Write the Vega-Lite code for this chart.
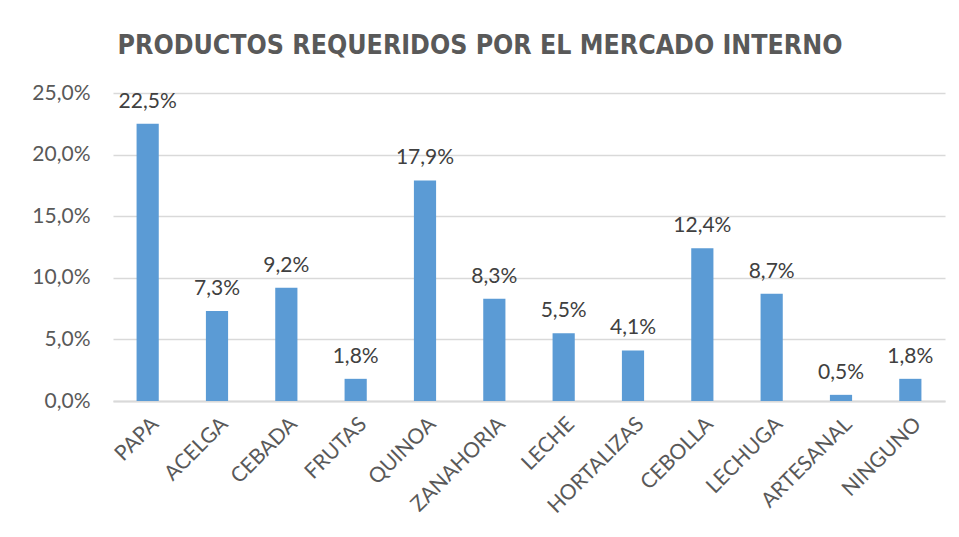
{
  "$schema": "https://vega.github.io/schema/vega-lite/v6.json",
  "autosize": "none",
  "width": 832,
  "height": 308,
  "padding": {"left": 113, "top": 93, "right": 14, "bottom": 136},
  "background": "white",
  "config": {
    "locale": {"number": {"decimal": ",", "thousands": ".", "grouping": [3], "currency": ["", " €"]}},
    "view": {"stroke": null},
    "font": "Lato"
  },
  "title": {
    "text": "PRODUCTOS REQUERIDOS POR EL MERCADO INTERNO",
    "font": "DejaVu Sans Condensed, Liberation Sans",
    "fontSize": 26.5,
    "fontWeight": "bold",
    "color": "#595959",
    "anchor": "middle",
    "dx": -49,
    "offset": 23
  },
  "data": {
    "values": [
      {"producto": "PAPA", "valor": 0.225},
      {"producto": "ACELGA", "valor": 0.073},
      {"producto": "CEBADA", "valor": 0.092},
      {"producto": "FRUTAS", "valor": 0.018},
      {"producto": "QUINOA", "valor": 0.179},
      {"producto": "ZANAHORIA", "valor": 0.083},
      {"producto": "LECHE", "valor": 0.055},
      {"producto": "HORTALIZAS", "valor": 0.041},
      {"producto": "CEBOLLA", "valor": 0.124},
      {"producto": "LECHUGA", "valor": 0.087},
      {"producto": "ARTESANAL", "valor": 0.005},
      {"producto": "NINGUNO", "valor": 0.018}
    ]
  },
  "encoding": {
    "x": {
      "field": "producto",
      "type": "nominal",
      "sort": null,
      "scale": {"paddingInner": 0.68, "paddingOuter": 0.34},
      "axis": {
        "title": null,
        "labelAngle": -45,
        "labelFontSize": 21,
        "labelColor": "#595959",
        "labelPadding": 12,
        "ticks": false,
        "domainColor": "#d9d9d9",
        "domainWidth": 2
      }
    },
    "y": {
      "field": "valor",
      "type": "quantitative",
      "scale": {"domain": [0, 0.25]},
      "axis": {
        "title": null,
        "format": ".1%",
        "values": [0, 0.05, 0.1, 0.15, 0.2, 0.25],
        "labelFontSize": 21,
        "labelColor": "#595959",
        "labelPadding": 23,
        "ticks": false,
        "domain": false,
        "gridColor": "#d9d9d9",
        "gridWidth": 1.5
      }
    }
  },
  "layer": [
    {"mark": {"type": "bar", "color": "#5b9bd5"}},
    {
      "mark": {"type": "text", "dy": -12, "baseline": "bottom", "fontSize": 21, "color": "#404040"},
      "encoding": {"text": {"field": "valor", "type": "quantitative", "format": ".1%"}}
    }
  ]
}
